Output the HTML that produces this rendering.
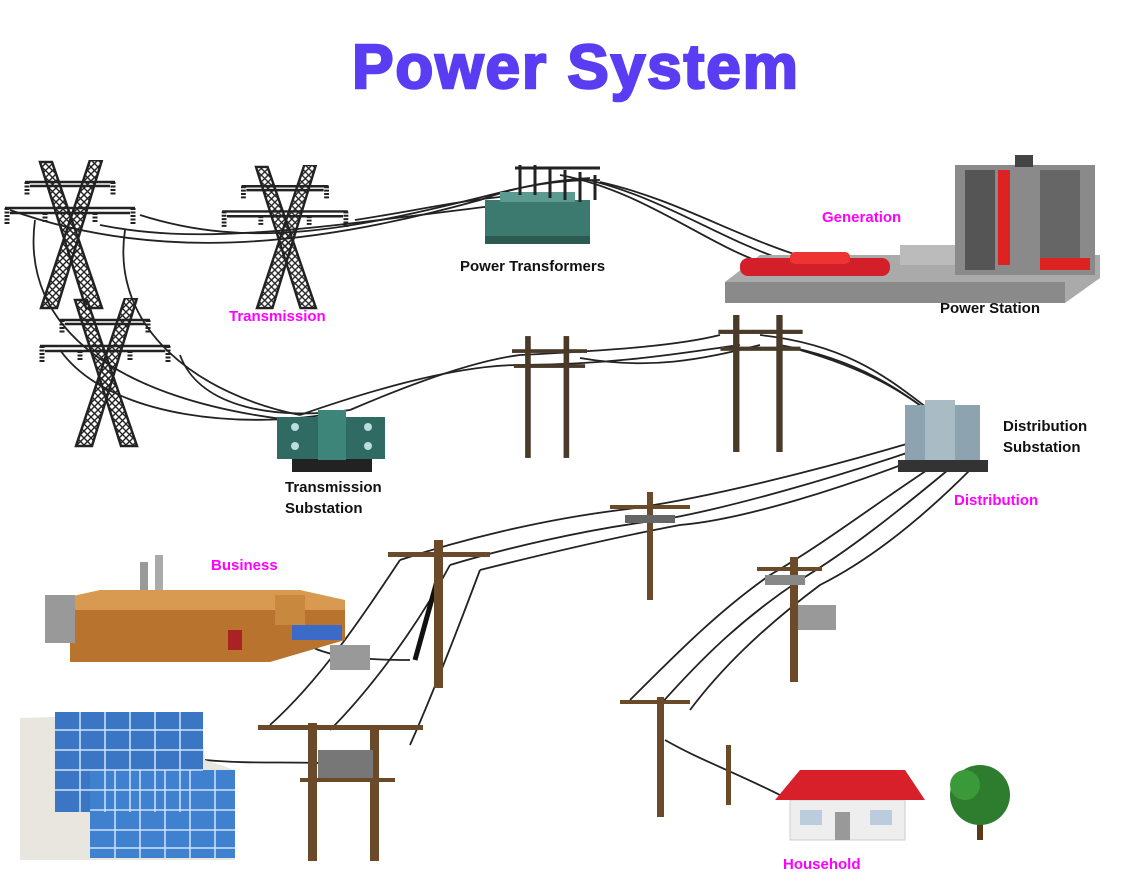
<!DOCTYPE html>
<html><head><meta charset="utf-8"><style>
html,body{margin:0;padding:0;background:#fff}
svg{display:block}
text{font-family:"Liberation Sans",Arial,sans-serif;font-weight:bold}
</style></head><body>
<svg width="1135" height="891" viewBox="0 0 1135 891" xmlns="http://www.w3.org/2000/svg">
<defs>
<pattern id="lat" width="7" height="7" patternUnits="userSpaceOnUse">
<path d="M0,0 L7,7 M7,0 L0,7" stroke="#222" stroke-width="1.4"/>
</pattern>
<symbol id="tower" viewBox="0 0 140 150" width="140" height="150">
<polygon points="40,2 52,2 102,148 86,148" fill="url(#lat)" stroke="#222" stroke-width="2.5"/>
<polygon points="90,0 102,0 57,148 41,148" fill="url(#lat)" stroke="#222" stroke-width="2.5"/>
<path d="M5,48 L135,48 M10,53 L130,53 M25,22 L115,22 M30,26 L110,26" stroke="#222" stroke-width="2.5"/>
<path d="M7,48 v16 M133,48 v16 M27,22 v14 M113,22 v14 M45,53 v10 M95,53 v10" stroke="#222" stroke-width="5" stroke-dasharray="2,1.5"/>
</symbol>
<symbol id="pole" viewBox="0 0 80 130" width="80" height="130">
<rect x="14" y="0" width="6" height="130" fill="#4a3a2a"/>
<rect x="55" y="0" width="6" height="130" fill="#4a3a2a"/>
<rect x="0" y="14" width="80" height="4" fill="#4a3a2a"/>
<rect x="2" y="30" width="76" height="4" fill="#4a3a2a"/>
</symbol>
</defs>

<text x="576" y="88" font-size="62" fill="#5a3cf2" stroke="#5a3cf2" stroke-width="2.5" letter-spacing="2" text-anchor="middle">Power System</text>

<!-- towers -->
<use href="#tower" x="0" y="160"/>
<use href="#tower" x="215" y="165" width="140" height="145"/>
<use href="#tower" x="35" y="298"/>

<!-- HV wires -->
<g fill="none" stroke="#222" stroke-width="1.8">
<path d="M10,210 C150,260 300,250 480,200 C520,185 560,180 590,178"/>
<path d="M140,215 C250,250 350,230 490,195 C540,182 570,180 600,180"/>
<path d="M100,225 C200,245 300,230 500,205"/>
<path d="M355,220 C420,210 460,200 520,195"/>
<path d="M560,175 C640,190 700,240 760,262"/>
<path d="M580,178 C660,195 720,240 790,262"/>
<path d="M600,182 C680,200 740,240 820,262"/>
<path d="M35,220 C20,330 120,400 290,420"/>
<path d="M125,230 C110,330 200,395 300,415"/>
<path d="M60,350 C110,420 250,430 340,412"/>
<path d="M180,355 C200,410 280,420 350,410"/>
<path d="M350,410 C420,380 480,360 520,355 C620,350 680,345 720,335"/>
<path d="M300,415 C400,380 470,365 520,365 C620,365 700,350 740,345"/>
<path d="M580,358 C650,370 700,360 760,345"/>
<path d="M760,335 C850,345 890,380 930,410"/>
<path d="M780,345 C860,360 900,390 940,420"/>
<path d="M800,350 C870,370 910,395 945,425"/>
<path d="M920,440 C820,470 700,500 620,510 C540,520 460,540 400,560"/>
<path d="M930,445 C830,480 720,510 660,520 C580,530 500,550 450,565"/>
<path d="M940,450 C840,490 740,520 680,525 C600,540 520,560 480,570"/>
<path d="M950,455 C880,500 830,540 770,575 C720,610 680,650 630,700"/>
<path d="M960,460 C900,510 850,550 800,580 C740,620 700,660 660,705"/>
<path d="M970,470 C920,520 870,560 820,585 C760,630 720,670 690,710"/>
<path d="M400,560 C360,620 320,680 270,725"/>
<path d="M450,565 C410,640 360,700 330,730"/>
<path d="M480,570 C450,650 430,700 410,745"/>
<path d="M205,760 C260,765 300,760 345,765"/>
<path d="M665,740 C700,760 730,770 780,795"/>
<path d="M300,640 C320,655 350,660 410,660"/>
</g>
<path d="M415,660 L440,570" stroke="#111" stroke-width="5"/>

<!-- power transformer -->
<g>
<rect x="485" y="200" width="105" height="40" fill="#3c7a70"/>
<rect x="500" y="192" width="75" height="10" fill="#5a9a90"/>
<rect x="485" y="236" width="105" height="8" fill="#2a5a50"/>
<path d="M520,165 v30 M535,165 v30 M550,168 v30 M565,170 v30 M580,172 v30 M595,175 v25 M515,168 h85" stroke="#222" stroke-width="3"/>
</g>
<text x="460" y="271" font-size="15" fill="#111">Power Transformers</text>

<!-- power station -->
<polygon points="725,282 760,255 1100,255 1100,278 1065,303 725,303" fill="#aaa"/>
<polygon points="725,282 1065,282 1065,303 725,303" fill="#8a8a8a"/>
<rect x="900" y="245" width="70" height="20" fill="#bbb"/>
<rect x="955" y="165" width="140" height="110" fill="#8a8a8a"/>
<rect x="965" y="170" width="30" height="100" fill="#555"/>
<rect x="1040" y="170" width="40" height="100" fill="#666"/>
<rect x="998" y="170" width="12" height="95" fill="#d22"/>
<rect x="1015" y="155" width="18" height="12" fill="#444"/>
<rect x="1040" y="258" width="50" height="12" fill="#d22"/>
<rect x="740" y="258" width="150" height="18" rx="8" fill="#d31f2a"/>
<rect x="790" y="252" width="60" height="12" rx="5" fill="#e33"/>
<text x="822" y="222" font-size="15" fill="#f0f">Generation</text>
<text x="940" y="313" font-size="15" fill="#111">Power Station</text>

<text x="229" y="321" font-size="15" fill="#f0f">Transmission</text>

<!-- transmission substation -->
<rect x="292" y="458" width="80" height="14" fill="#222"/>
<rect x="277" y="417" width="108" height="42" fill="#2f6b62"/>
<rect x="318" y="410" width="28" height="50" fill="#3d8479"/>
<circle cx="295" cy="427" r="4" fill="#bdd"/><circle cx="295" cy="446" r="4" fill="#bdd"/>
<circle cx="368" cy="427" r="4" fill="#bdd"/><circle cx="368" cy="446" r="4" fill="#bdd"/>
<text x="285" y="492" font-size="15" fill="#111">Transmission</text>
<text x="285" y="513" font-size="15" fill="#111">Substation</text>

<!-- mid poles -->
<use href="#pole" x="512" y="333" width="75" height="128"/>
<use href="#pole" x="718" y="315" width="85" height="137"/>

<!-- distribution substation -->
<rect x="905" y="405" width="75" height="58" fill="#8ea3b0"/>
<rect x="925" y="400" width="30" height="62" fill="#a9bcc6"/>
<rect x="898" y="460" width="90" height="12" fill="#333"/>
<text x="1003" y="431" font-size="15" fill="#111">Distribution</text>
<text x="1003" y="452" font-size="15" fill="#111">Substation</text>
<text x="954" y="505" font-size="15" fill="#f0f">Distribution</text>

<!-- distribution poles -->
<rect x="647" y="492" width="6" height="108" fill="#6b4a2a"/>
<rect x="610" y="505" width="80" height="4" fill="#6b4a2a"/>
<rect x="625" y="515" width="50" height="8" fill="#666"/>
<rect x="434" y="540" width="9" height="148" fill="#6b4a2a"/>
<rect x="388" y="552" width="102" height="5" fill="#6b4a2a"/>
<rect x="790" y="557" width="8" height="125" fill="#6b4a2a"/>
<rect x="757" y="567" width="65" height="4" fill="#6b4a2a"/>
<rect x="765" y="575" width="40" height="10" fill="#888"/>
<rect x="798" y="605" width="38" height="25" fill="#999"/>
<rect x="657" y="697" width="7" height="120" fill="#6b4a2a"/>
<rect x="620" y="700" width="70" height="4" fill="#6b4a2a"/>
<rect x="726" y="745" width="5" height="60" fill="#6b4a2a"/>
<rect x="308" y="723" width="9" height="138" fill="#6b4a2a"/>
<rect x="370" y="728" width="9" height="133" fill="#6b4a2a"/>
<rect x="258" y="725" width="165" height="5" fill="#6b4a2a"/>
<rect x="318" y="750" width="55" height="28" fill="#777"/>
<rect x="300" y="778" width="95" height="4" fill="#6b4a2a"/>

<!-- business -->
<rect x="140" y="562" width="8" height="40" fill="#999"/>
<rect x="155" y="555" width="8" height="45" fill="#aaa"/>
<polygon points="55,600 100,590 300,590 345,600 345,610 70,610" fill="#d79a50"/>
<polygon points="70,610 345,610 345,640 270,662 70,662" fill="#b8732e"/>
<rect x="45" y="595" width="30" height="48" fill="#999"/>
<rect x="275" y="595" width="30" height="30" fill="#c8883e"/>
<rect x="228" y="630" width="14" height="20" fill="#a22"/>
<rect x="292" y="625" width="50" height="15" fill="#3c6ac8"/>
<rect x="330" y="645" width="40" height="25" fill="#999"/>
<text x="211" y="570" font-size="15" fill="#f0f">Business</text>

<!-- apartments -->
<polygon points="20,718 200,712 205,760 235,770 235,860 20,860" fill="#e9e6e0"/>
<rect x="55" y="712" width="148" height="100" fill="#3a76c4"/>
<rect x="90" y="770" width="145" height="88" fill="#3f80cf"/>
<g stroke="#cfe3ff" stroke-width="1.5">
<path d="M55,730 h148 M55,750 h148 M55,770 h148 M55,790 h148 M90,790 h145 M90,810 h145 M90,830 h145 M90,848 h145"/>
<path d="M80,712 v100 M105,712 v100 M130,712 v100 M155,712 v100 M180,712 v100 M115,770 v88 M140,770 v88 M165,770 v88 M190,770 v88 M215,770 v88"/>
</g>

<!-- house -->
<rect x="790" y="800" width="115" height="40" fill="#eee" stroke="#ccc"/>
<polygon points="775,800 800,770 905,770 925,800" fill="#d8202a"/>
<rect x="835" y="812" width="15" height="28" fill="#999"/>
<rect x="800" y="810" width="22" height="15" fill="#bcd"/>
<rect x="870" y="810" width="22" height="15" fill="#bcd"/>
<text x="783" y="869" font-size="15" fill="#f0f">Household</text>

<!-- tree -->
<rect x="977" y="815" width="6" height="25" fill="#5a3a1a"/>
<circle cx="980" cy="795" r="30" fill="#2e7d2e"/>
<circle cx="965" cy="785" r="15" fill="#3a9a3a"/>
</svg>
</body></html>
